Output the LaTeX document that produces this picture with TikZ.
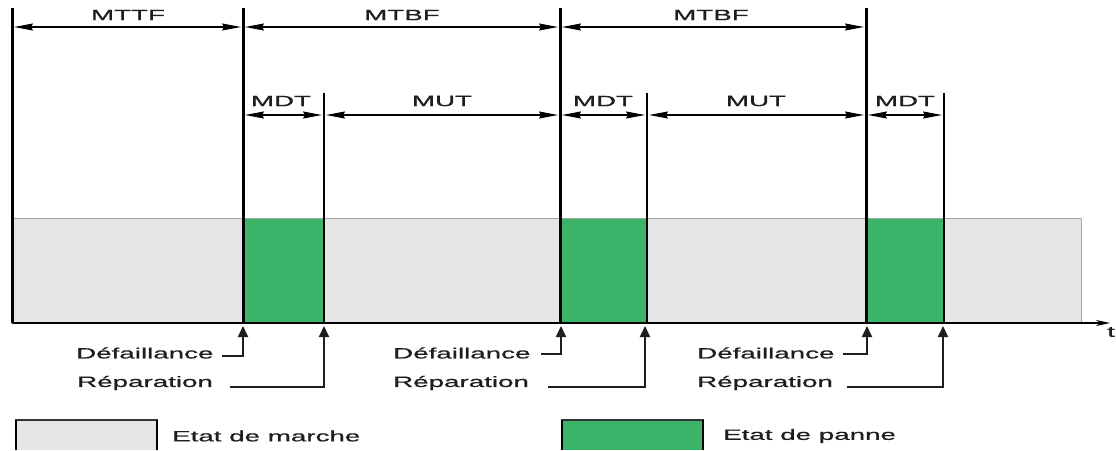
\documentclass[tikz,border=0pt]{standalone}
\usepackage{fontspec}
\setmainfont{Liberation Sans}[FakeBold=0.6]
\usetikzlibrary{arrows.meta}
\definecolor{upgray}{RGB}{229,229,229}
\definecolor{downgreen}{RGB}{58,180,104}
\definecolor{txt}{RGB}{30,30,30}
\newcommand\wtxt[1]{\scalebox{1.85}[1]{#1}}
\tikzset{
  lbl/.style={inner sep=0pt, text=txt, font=\fontsize{15pt}{15pt}\selectfont},
  bigbar/.style={line width=3pt, black},
  smallbar/.style={line width=2.5pt, black},
  dim/.style={line width=1.2pt, black, {Stealth[length=19pt,width=7pt,inset=2pt]}-{Stealth[length=19pt,width=7pt,inset=2pt]}},
  pointer/.style={line width=2pt, txt, -{Triangle[length=11pt,width=10pt]}},
  axis/.style={line width=2pt, black, -{Stealth[length=14pt,width=6pt]}},
}
\begin{document}
\begin{tikzpicture}[x=1pt,y=-1pt]
\useasboundingbox (0,0) rectangle (1116,450);
% states background
\fill[upgray] (12,218) rectangle (1081,323);
\draw[gray!70, line width=0.8pt] (12,218) -- (1081,218) -- (1081,323);
\fill[downgreen] (243,219) rectangle (324,323);
\fill[downgreen] (560,219) rectangle (647,323);
\fill[downgreen] (866,219) rectangle (944,323);
% time axis
\coordinate (a0) at (12,323);
\coordinate (a1) at (1110,323);
\draw[axis] (a0) -- (a1);
\node[lbl, anchor=west] (t) at (1107,332) {\wtxt{t}};
% vertical bars
\foreach \n/\x in {v0/12, v1/243, v2/560, v3/866}{
  \coordinate (\n t) at (\x,8);
  \coordinate (\n b) at (\x,323);
  \draw[bigbar] (\n t) -- (\n b);
}
\foreach \n/\x in {r1/324, r2/647, r3/944}{
  \coordinate (\n t) at (\x,93);
  \coordinate (\n b) at (\x,323);
  \draw[smallbar] (\n t) -- (\n b);
}
% top dimensions
\draw[dim] ([xshift=2pt]v0t |- 0,27) -- ([xshift=-2pt]v1t |- 0,27);
\draw[dim] ([xshift=2pt]v1t |- 0,27) -- ([xshift=-2pt]v2t |- 0,27);
\draw[dim] ([xshift=2pt]v2t |- 0,27) -- ([xshift=-2pt]v3t |- 0,27);
\node[lbl] (mttf) at (128,15) {\wtxt{MTTF}};
\node[lbl] (mtbf1) at (402,15) {\wtxt{MTBF}};
\node[lbl] (mtbf2) at (711,15) {\wtxt{MTBF}};
% lower dimensions
\draw[dim] ([xshift=2pt]v1t |- 0,115) -- ([xshift=-2pt]r1t |- 0,115);
\draw[dim] ([xshift=2pt]r1t |- 0,115) -- ([xshift=-2pt]v2t |- 0,115);
\draw[dim] ([xshift=2pt]v2t |- 0,115) -- ([xshift=-2pt]r2t |- 0,115);
\draw[dim] ([xshift=2pt]r2t |- 0,115) -- ([xshift=-2pt]v3t |- 0,115);
\draw[dim] ([xshift=2pt]v3t |- 0,115) -- ([xshift=-2pt]r3t |- 0,115);
\node[lbl] (mdt1) at (281,101) {\wtxt{MDT}};
\node[lbl] (mut1) at (442,101) {\wtxt{MUT}};
\node[lbl] (mdt2) at (603,101) {\wtxt{MDT}};
\node[lbl] (mut2) at (756,101) {\wtxt{MUT}};
\node[lbl] (mdt3) at (905,101) {\wtxt{MDT}};
% event labels
\node[lbl, anchor=west] (f1) at (76,353) {\wtxt{Défaillance}};
\node[lbl, anchor=west] (p1) at (77,383) {\wtxt{Réparation}};
\node[lbl, anchor=west] (f2) at (393,353) {\wtxt{Défaillance}};
\node[lbl, anchor=west] (p2) at (393,383) {\wtxt{Réparation}};
\node[lbl, anchor=west] (f3) at (697,353) {\wtxt{Défaillance}};
\node[lbl, anchor=west] (p3) at (697,383) {\wtxt{Réparation}};
\coordinate (f1s) at (222,356); \coordinate (f1e) at (243,326);
\coordinate (p1s) at (230,387); \coordinate (p1e) at (324,326);
\coordinate (f2s) at (541,354); \coordinate (f2e) at (561,326);
\coordinate (p2s) at (548,387); \coordinate (p2e) at (645,326);
\coordinate (f3s) at (843,354); \coordinate (f3e) at (867,326);
\coordinate (p3s) at (847,387); \coordinate (p3e) at (943,326);
\foreach \s in {f1,p1,f2,p2,f3,p3}{
  \draw[pointer] (\s s) -| (\s e);
}
% legend
\fill[upgray] (16,420) rectangle (157,450);
\draw[line width=1.2pt, black!80] (16,450) -- (16,420) -- (157,420) -- (157,450);
\draw[line width=2.5pt] (16,420) -- (16,450) (157,420) -- (157,450);
\node[lbl, anchor=west] (lm) at (172,436) {\wtxt{Etat de marche}};
\fill[downgreen] (562,420) rectangle (703,450);
\draw[line width=1.2pt, black!80] (562,450) -- (562,420) -- (703,420) -- (703,450);
\draw[line width=2.5pt] (562,420) -- (562,450) (703,420) -- (703,450);
\node[lbl, anchor=west] (lp) at (723,436) {\wtxt{Etat de panne}};
\end{tikzpicture}
\end{document}
